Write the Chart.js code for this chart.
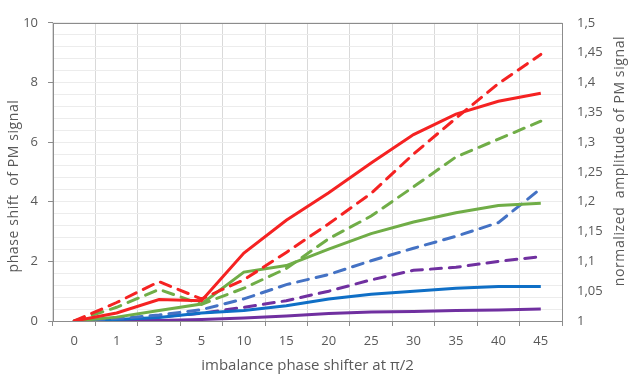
<!DOCTYPE html>
<html>
<head>
<meta charset="utf-8">
<script src="https://cdn.jsdelivr.net/npm/chart.js@4"></script>
<style>
  html, body { margin: 0; padding: 0; background: #fff; }
  #wrap { width: 630px; height: 381px; }
</style>
</head>
<body>
<div id="wrap"><canvas id="grafico"></canvas></div>
<script>
// categories (imbalance phase shifter, deg)
const categorias = ["0", "1", "3", "5", "10", "15", "20", "25", "30", "35", "40", "45"];

// solid lines -> phase shift of PM signal (left axis)
const faseVermelho = [0, 0.27, 0.72, 0.68, 2.28, 3.38, 4.3, 5.3, 6.25, 6.94, 7.37, 7.64];
const faseVerde = [0, 0.13, 0.35, 0.57, 1.64, 1.86, 2.41, 2.93, 3.32, 3.63, 3.87, 3.95];
const faseAzul = [0, 0.05, 0.12, 0.27, 0.35, 0.51, 0.74, 0.9, 1.0, 1.1, 1.16, 1.16];
const faseRoxo = [0, 0.02, 0.02, 0.05, 0.1, 0.17, 0.25, 0.3, 0.32, 0.35, 0.37, 0.4];

// dashed lines -> normalized amplitude of PM signal (right axis)
const ampVermelho = [1, 1.031, 1.066, 1.037, 1.069, 1.115, 1.163, 1.214, 1.28, 1.34, 1.398, 1.447];
const ampVerde = [1, 1.023, 1.053, 1.028, 1.055, 1.088, 1.138, 1.176, 1.225, 1.275, 1.305, 1.335];
const ampAzul = [1, 1.004, 1.01, 1.019, 1.037, 1.061, 1.078, 1.101, 1.122, 1.142, 1.165, 1.222];
const ampRoxo = [1, 1.003, 1.007, 1.013, 1.023, 1.034, 1.05, 1.069, 1.085, 1.09, 1.1, 1.108];

// axis ticks
const ticksEsquerda = [0, 2, 4, 6, 8, 10];
const ticksDireita = [1, 1.05, 1.1, 1.15, 1.2, 1.25, 1.3, 1.35, 1.4, 1.45, 1.5];

const fonte = "'Open Sans', 'DejaVu Sans', sans-serif";
const cinza = "#595959";

function linha(dados, cor, eixo, tracejado) {
  return {
    data: dados,
    borderColor: cor,
    backgroundColor: cor,
    borderWidth: 3,
    borderDash: tracejado ? [11, 8] : [],
    borderCapStyle: tracejado ? "round" : "butt",
    pointRadius: 0,
    tension: 0,
    fill: false,
    yAxisID: eixo,
  };
}

function textoVertical(c, texto, x, y) {
  c.save();
  c.translate(x, y);
  c.rotate(-Math.PI / 2);
  c.fillStyle = cinza;
  c.font = "14px " + fonte;
  c.letterSpacing = "0.6px";
  c.textAlign = "center";
  c.textBaseline = "middle";
  c.fillText(texto, 0, 0);
  c.restore();
}

// frame around the plot + both vertical axis titles (read bottom to top)
const moldura = {
  id: "moldura",
  beforeDatasetsDraw(chart) {
    const a = chart.chartArea;
    const c = chart.ctx;
    c.save();
    c.strokeStyle = "#8c8c8c";
    c.lineWidth = 1;
    c.strokeRect(Math.round(a.left) + 0.5, Math.round(a.top) + 0.5,
      Math.round(a.right - a.left), Math.round(a.bottom - a.top));
    c.restore();
  },
  afterDraw(chart) {
    const c = chart.ctx;
    textoVertical(c, "phase shift  of PM signal", 14, 186);
    textoVertical(c, "normalized  amplitude of PM signal", 620, 161);
  },
};

const ctx = document.getElementById("grafico").getContext("2d");

new Chart(ctx, {
  type: "line",
  data: {
    labels: categorias,
    datasets: [
      linha(faseVermelho, "#f52222", "y", false),
      linha(ampVermelho, "#f52222", "y1", true),
      linha(faseVerde, "#70ad47", "y", false),
      linha(ampVerde, "#70ad47", "y1", true),
      linha(ampAzul, "#4472c4", "y1", true),
      linha(faseAzul, "#0f6fc6", "y", false),
      linha(ampRoxo, "#7030a0", "y1", true),
      linha(faseRoxo, "#7030a0", "y", false),
    ],
  },
  options: {
    responsive: true,
    maintainAspectRatio: false,
    animation: false,
    layout: { padding: { top: 10, left: 0, right: 0, bottom: 0 } },
    plugins: {
      legend: { display: false },
      tooltip: { enabled: false },
    },
    scales: {
      x: {
        offset: true,
        afterFit: (s) => { s.height = 60; },
        grid: {
          offset: true,
          color: "#d9d9d9",
          tickColor: "#8c8c8c",
          tickLength: 5,
        },
        border: { display: false },
        ticks: { color: cinza, font: { family: fonte, size: 13 }, padding: 7, maxRotation: 0, autoSkip: false },
        title: {
          display: true,
          text: "imbalance phase shifter at \u03c0/2",
          color: cinza,
          font: { family: fonte, size: 15 },
          padding: { top: 2, bottom: 6 },
        },
      },
      y: {
        position: "left",
        min: 0,
        max: 10,
        afterFit: (s) => { s.width = 53; },
        afterBuildTicks: (s) => {
          // light minor lines every 0.4, labels only at the major ticks
          const t = [];
          for (let i = 0; i <= 25; i++) t.push({ value: Math.round(i * 0.4 * 10) / 10 });
          s.ticks = t;
        },
        grid: {
          color: (c) => (c.tick && c.tick.value === 0 ? "transparent" : "#ececec"),
          tickColor: (c) => (c.tick && ticksEsquerda.includes(c.tick.value) ? "#8c8c8c" : "transparent"),
          tickLength: 5,
        },
        border: { display: false },
        ticks: {
          color: cinza,
          font: { family: fonte, size: 13 },
          padding: 10,
          autoSkip: false,
          callback: (v) => (ticksEsquerda.includes(v) ? String(v) : ""),
        },
      },
      y1: {
        position: "right",
        min: 1,
        max: 1.5,
        afterFit: (s) => { s.width = 68; },
        afterBuildTicks: (s) => { s.ticks = ticksDireita.map((v) => ({ value: v })); },
        grid: { display: false, drawTicks: false },
        border: { display: false },
        ticks: {
          color: cinza,
          font: { family: fonte, size: 13 },
          padding: 15,
          autoSkip: false,
          callback: (v) => String(Number(v.toFixed(2))).replace(".", ","),
        },
      },
    },
  },
  plugins: [moldura],
});
</script>
</body>
</html>
